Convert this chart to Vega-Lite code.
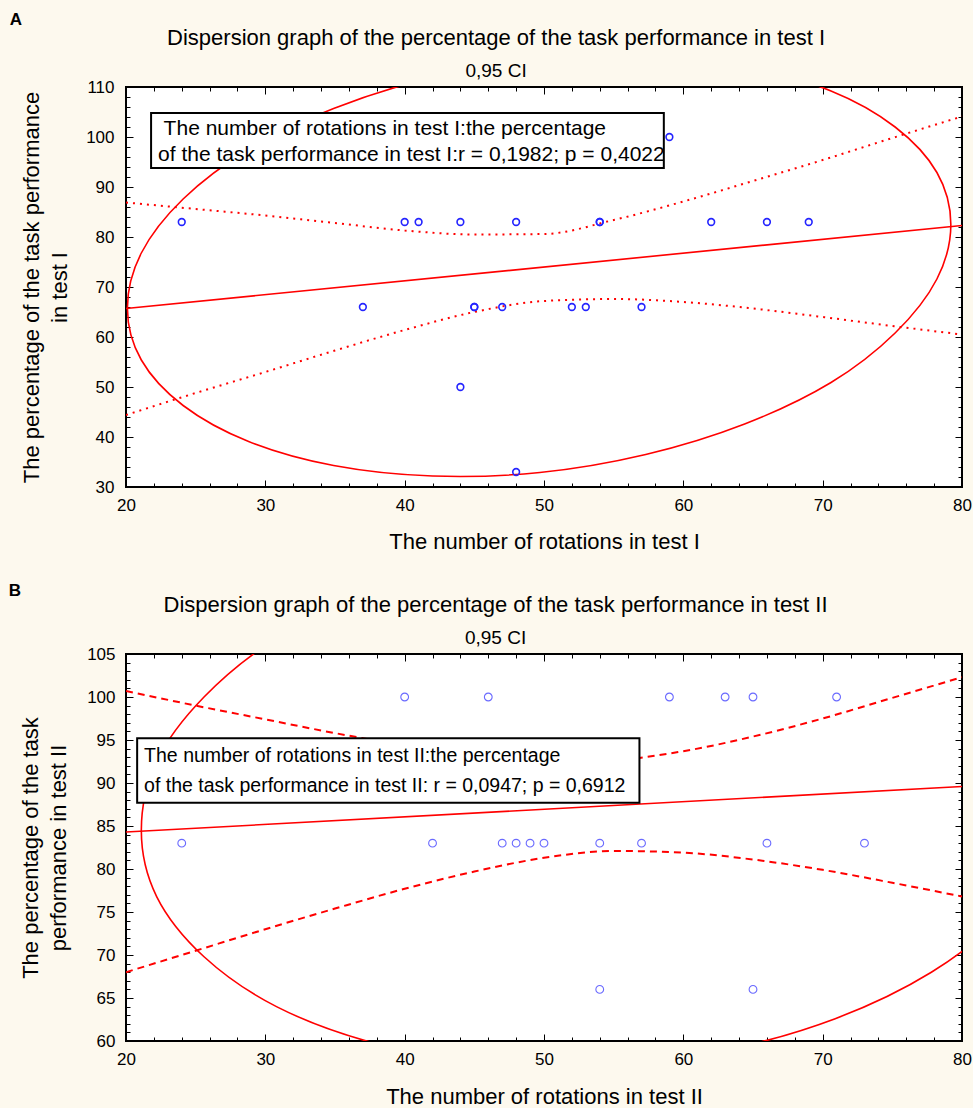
{
  "$schema": "https://vega.github.io/schema/vega-lite/v6.json",
  "padding": {"left": 8, "top": 11, "right": 0, "bottom": 0},
  "spacing": 29,
  "datasets": {
    "pointsA": [
      {"x": 24, "y": 83}, {"x": 37, "y": 66}, {"x": 40, "y": 83}, {"x": 41, "y": 83},
      {"x": 44, "y": 83}, {"x": 44, "y": 50}, {"x": 45, "y": 66}, {"x": 45, "y": 66},
      {"x": 47, "y": 66}, {"x": 48, "y": 83}, {"x": 48, "y": 33}, {"x": 52, "y": 66},
      {"x": 53, "y": 66}, {"x": 54, "y": 83}, {"x": 54, "y": 83}, {"x": 57, "y": 66},
      {"x": 59, "y": 100}, {"x": 62, "y": 83}, {"x": 66, "y": 83}, {"x": 69, "y": 83}
    ],
    "fitA": [{"x": 20, "y": 65.7}, {"x": 80, "y": 82.3}],
    "bandA": [
      {"band": "upper", "x": 20, "y": 86.9}, {"band": "upper", "x": 25, "y": 85.6},
      {"band": "upper", "x": 30, "y": 84.3}, {"band": "upper", "x": 35, "y": 82.8},
      {"band": "upper", "x": 40, "y": 81.3}, {"band": "upper", "x": 45, "y": 80.5},
      {"band": "upper", "x": 50, "y": 80.6}, {"band": "upper", "x": 55, "y": 83.4},
      {"band": "upper", "x": 60, "y": 87.1}, {"band": "upper", "x": 65, "y": 91.2},
      {"band": "upper", "x": 70, "y": 95.4}, {"band": "upper", "x": 75, "y": 99.8},
      {"band": "upper", "x": 80, "y": 104.1},
      {"band": "lower", "x": 20, "y": 44.4}, {"band": "lower", "x": 25, "y": 48.8},
      {"band": "lower", "x": 30, "y": 53.0}, {"band": "lower", "x": 35, "y": 57.3},
      {"band": "lower", "x": 40, "y": 61.4}, {"band": "lower", "x": 45, "y": 65.0},
      {"band": "lower", "x": 50, "y": 67.2}, {"band": "lower", "x": 55, "y": 67.6},
      {"band": "lower", "x": 60, "y": 67.0}, {"band": "lower", "x": 65, "y": 65.7},
      {"band": "lower", "x": 70, "y": 64.0}, {"band": "lower", "x": 75, "y": 62.2},
      {"band": "lower", "x": 80, "y": 60.5}
    ],
    "ellipseA": [
      {"i": 0, "x": 79.2, "y": 82.5}, {"i": 1, "x": 78.2, "y": 92.9}, {"i": 2, "x": 75.2, "y": 102.0},
      {"i": 3, "x": 70.6, "y": 109.2}, {"i": 4, "x": 64.4, "y": 114.1}, {"i": 5, "x": 57.3, "y": 116.2},
      {"i": 6, "x": 49.7, "y": 115.4}, {"i": 7, "x": 42.0, "y": 111.9}, {"i": 8, "x": 34.9, "y": 105.7},
      {"i": 9, "x": 28.8, "y": 97.5}, {"i": 10, "x": 24.1, "y": 87.6}, {"i": 11, "x": 21.1, "y": 76.8},
      {"i": 12, "x": 20.1, "y": 65.8}, {"i": 13, "x": 21.1, "y": 55.4}, {"i": 14, "x": 24.1, "y": 46.3},
      {"i": 15, "x": 28.8, "y": 39.1}, {"i": 16, "x": 34.9, "y": 34.3}, {"i": 17, "x": 42.0, "y": 32.2},
      {"i": 18, "x": 49.7, "y": 32.9}, {"i": 19, "x": 57.3, "y": 36.5}, {"i": 20, "x": 64.4, "y": 42.6},
      {"i": 21, "x": 70.6, "y": 50.9}, {"i": 22, "x": 75.2, "y": 60.8}, {"i": 23, "x": 78.2, "y": 71.6}
    ],
    "noteBoxA": [{"x": 21.8, "x2": 58.6, "y": 104.8, "y2": 93.8}],
    "noteTextA": [
      {"x": 22.7, "y": 101.6, "label": "The number of rotations in test I:the percentage"},
      {"x": 22.3, "y": 96.5, "label": "of the task performance in test I:r = 0,1982; p = 0,4022"}
    ],
    "pointsB": [
      {"x": 40, "y": 100}, {"x": 46, "y": 100}, {"x": 59, "y": 100}, {"x": 63, "y": 100},
      {"x": 65, "y": 100}, {"x": 71, "y": 100}, {"x": 24, "y": 83}, {"x": 42, "y": 83},
      {"x": 47, "y": 83}, {"x": 48, "y": 83}, {"x": 49, "y": 83}, {"x": 50, "y": 83},
      {"x": 54, "y": 83}, {"x": 57, "y": 83}, {"x": 66, "y": 83}, {"x": 73, "y": 83},
      {"x": 54, "y": 66}, {"x": 65, "y": 66}
    ],
    "fitB": [{"x": 20, "y": 84.3}, {"x": 80, "y": 89.6}],
    "bandB": [
      {"band": "upper", "x": 20, "y": 100.7}, {"band": "upper", "x": 25, "y": 99.0},
      {"band": "upper", "x": 30, "y": 97.4}, {"band": "upper", "x": 35, "y": 95.8},
      {"band": "upper", "x": 40, "y": 94.4}, {"band": "upper", "x": 45, "y": 93.3},
      {"band": "upper", "x": 50, "y": 92.6}, {"band": "upper", "x": 55, "y": 92.7},
      {"band": "upper", "x": 60, "y": 93.7}, {"band": "upper", "x": 65, "y": 95.4},
      {"band": "upper", "x": 70, "y": 97.5}, {"band": "upper", "x": 75, "y": 99.9},
      {"band": "upper", "x": 80, "y": 102.3},
      {"band": "lower", "x": 20, "y": 68.0}, {"band": "lower", "x": 25, "y": 70.5},
      {"band": "lower", "x": 30, "y": 73.0}, {"band": "lower", "x": 35, "y": 75.4},
      {"band": "lower", "x": 40, "y": 77.7}, {"band": "lower", "x": 45, "y": 79.7},
      {"band": "lower", "x": 50, "y": 81.3}, {"band": "lower", "x": 55, "y": 82.1},
      {"band": "lower", "x": 60, "y": 81.9}, {"band": "lower", "x": 65, "y": 81.1},
      {"band": "lower", "x": 70, "y": 79.9}, {"band": "lower", "x": 75, "y": 78.4},
      {"band": "lower", "x": 80, "y": 76.8}
    ],
    "ellipseB": [
      {"i": 0, "x": 87.5, "y": 90.3}, {"i": 1, "x": 86.4, "y": 98.0}, {"i": 2, "x": 83.1, "y": 105.0},
      {"i": 3, "x": 77.8, "y": 110.8}, {"i": 4, "x": 70.9, "y": 115.1}, {"i": 5, "x": 62.9, "y": 117.4},
      {"i": 6, "x": 54.3, "y": 117.7}, {"i": 7, "x": 45.7, "y": 115.9}, {"i": 8, "x": 37.7, "y": 112.2},
      {"i": 9, "x": 30.8, "y": 106.8}, {"i": 10, "x": 25.6, "y": 100.0}, {"i": 11, "x": 22.2, "y": 92.5},
      {"i": 12, "x": 21.1, "y": 84.5}, {"i": 13, "x": 22.2, "y": 76.8}, {"i": 14, "x": 25.6, "y": 69.8},
      {"i": 15, "x": 30.8, "y": 64.0}, {"i": 16, "x": 37.7, "y": 59.8}, {"i": 17, "x": 45.7, "y": 57.4},
      {"i": 18, "x": 54.3, "y": 57.1}, {"i": 19, "x": 62.9, "y": 58.9}, {"i": 20, "x": 70.9, "y": 62.6},
      {"i": 21, "x": 77.8, "y": 68.0}, {"i": 22, "x": 83.1, "y": 74.8}, {"i": 23, "x": 86.4, "y": 82.4}
    ],
    "noteBoxB": [{"x": 20.8, "x2": 56.85, "y": 95.2, "y2": 87.7}],
    "noteTextB": [
      {"x": 21.3, "y": 93.15, "label": "The number of rotations in test II:the percentage"},
      {"x": 21.3, "y": 89.6, "label": " of the task performance in test II: r = 0,0947; p = 0,6912"}
    ]
  },
  "vconcat": [
    {
      "title": {"text": "A", "anchor": "start", "fontSize": 17, "fontWeight": "bold", "dx": -10, "dy": 3, "offset": 0, "frame": "bounds"},
      "vconcat": [
        {
          "width": 836,
          "height": 400,
          "title": {"text": "Dispersion graph of the percentage of the task performance in test I", "subtitle": "0,95 CI", "frame": "bounds", "offset": -4},
          "encoding": {
            "x": {"field": "x", "type": "quantitative", "scale": {"domain": [20, 80], "nice": false, "zero": false}, "axis": null},
            "y": {"field": "y", "type": "quantitative", "scale": {"domain": [30, 110], "nice": false, "zero": false}, "axis": null}
          },
          "layer": [
            {
              "data": {"name": "ellipseA"},
              "mark": {"type": "line", "interpolate": "cardinal-closed", "color": "#ff0000", "strokeWidth": 1.6, "clip": true},
              "encoding": {"order": {"field": "i", "type": "quantitative"}}
            },
            {
              "data": {"name": "bandA"},
              "mark": {"type": "line", "interpolate": "monotone", "color": "#ff0000", "strokeWidth": 2, "strokeDash": [2, 5], "clip": true},
              "encoding": {"detail": {"field": "band", "type": "nominal"}}
            },
            {
              "data": {"name": "fitA"},
              "mark": {"type": "line", "color": "#ff0000", "strokeWidth": 1.6},
              "encoding": {
                "x": {"field": "x", "type": "quantitative", "scale": {"domain": [20, 80], "nice": false, "zero": false},
                  "axis": {"orient": "top", "labels": false, "title": null, "grid": false,
                    "values": [20,22,24,26,28,30,32,34,36,38,40,42,44,46,48,50,52,54,56,58,60,62,64,66,68,70,72,74,76,78,80],
                    "tickSize": {"condition": {"test": "datum.value % 10 === 0", "value": -7}, "value": -4}}},
                "y": {"field": "y", "type": "quantitative", "scale": {"domain": [30, 110], "nice": false, "zero": false},
                  "axis": {"orient": "right", "labels": false, "title": null, "grid": false,
                    "values": [30,32,34,36,38,40,42,44,46,48,50,52,54,56,58,60,62,64,66,68,70,72,74,76,78,80,82,84,86,88,90,92,94,96,98,100,102,104,106,108,110],
                    "tickSize": {"condition": {"test": "datum.value % 10 === 0", "value": -7}, "value": -4}}}
              }
            },
            {
              "data": {"name": "noteBoxA"},
              "mark": {"type": "rect", "fill": "white", "stroke": "black", "strokeWidth": 2},
              "encoding": {
                "x2": {"field": "x2"},
                "y2": {"field": "y2"}
              }
            },
            {
              "data": {"name": "noteTextA"},
              "mark": {"type": "text", "align": "left", "baseline": "middle", "fontSize": 21},
              "encoding": {"text": {"field": "label", "type": "nominal"}}
            },
            {
              "data": {"name": "pointsA"},
              "mark": {"type": "point", "shape": "circle", "filled": false, "color": "#2424ff", "strokeWidth": 1.6, "size": 45, "opacity": 1},
              "encoding": {
                "x": {"field": "x", "type": "quantitative", "scale": {"domain": [20, 80], "nice": false, "zero": false},
                  "axis": {"orient": "bottom", "title": "The number of rotations in test I", "format": "d",
                    "values": [20,22,24,26,28,30,32,34,36,38,40,42,44,46,48,50,52,54,56,58,60,62,64,66,68,70,72,74,76,78,80],
                    "labelExpr": "datum.value % 10 === 0 ? datum.label : ''",
                    "tickSize": {"condition": {"test": "datum.value % 10 === 0", "value": -7}, "value": -4},
                    "gridOpacity": {"condition": {"test": "datum.value % 10 === 0", "value": 1}, "value": 0},
                    "labelPadding": 17, "titlePadding": 15}},
                "y": {"field": "y", "type": "quantitative", "scale": {"domain": [30, 110], "nice": false, "zero": false},
                  "axis": {"orient": "left", "title": ["The percentage of the task performance", "in test I"], "format": "d",
                    "values": [30,32,34,36,38,40,42,44,46,48,50,52,54,56,58,60,62,64,66,68,70,72,74,76,78,80,82,84,86,88,90,92,94,96,98,100,102,104,106,108,110],
                    "labelExpr": "datum.value % 10 === 0 ? datum.label : ''",
                    "tickSize": {"condition": {"test": "datum.value % 10 === 0", "value": -7}, "value": -4},
                    "gridOpacity": {"condition": {"test": "datum.value % 10 === 0", "value": 1}, "value": 0},
                    "labelPadding": 19, "titlePadding": 14}}
              }
            }
          ],
          "resolve": {"axis": {"x": "independent", "y": "independent"}}
        }
      ]
    },
    {
      "title": {"text": "B", "anchor": "start", "fontSize": 17, "fontWeight": "bold", "dx": -10, "dy": 7, "offset": 0, "frame": "bounds"},
      "vconcat": [
        {
          "width": 836,
          "height": 387,
          "title": {"text": "Dispersion graph   of the percentage of the task performance in test II", "subtitle": "0,95 CI", "frame": "bounds", "offset": -4},
          "encoding": {
            "x": {"field": "x", "type": "quantitative", "scale": {"domain": [20, 80], "nice": false, "zero": false}, "axis": null},
            "y": {"field": "y", "type": "quantitative", "scale": {"domain": [60, 105], "nice": false, "zero": false}, "axis": null}
          },
          "layer": [
            {
              "data": {"name": "ellipseB"},
              "mark": {"type": "line", "interpolate": "cardinal-closed", "color": "#ff0000", "strokeWidth": 1.6, "clip": true},
              "encoding": {"order": {"field": "i", "type": "quantitative"}}
            },
            {
              "data": {"name": "bandB"},
              "mark": {"type": "line", "interpolate": "monotone", "color": "#ff0000", "strokeWidth": 2, "strokeDash": [7, 5], "clip": true},
              "encoding": {"detail": {"field": "band", "type": "nominal"}}
            },
            {
              "data": {"name": "fitB"},
              "mark": {"type": "line", "color": "#ff0000", "strokeWidth": 1.6},
              "encoding": {
                "x": {"field": "x", "type": "quantitative", "scale": {"domain": [20, 80], "nice": false, "zero": false},
                  "axis": {"orient": "top", "labels": false, "title": null, "grid": false,
                    "values": [20,22,24,26,28,30,32,34,36,38,40,42,44,46,48,50,52,54,56,58,60,62,64,66,68,70,72,74,76,78,80],
                    "tickSize": {"condition": {"test": "datum.value % 10 === 0", "value": -7}, "value": -4}}},
                "y": {"field": "y", "type": "quantitative", "scale": {"domain": [60, 105], "nice": false, "zero": false},
                  "axis": {"orient": "right", "labels": false, "title": null, "grid": false,
                    "values": [60,61,62,63,64,65,66,67,68,69,70,71,72,73,74,75,76,77,78,79,80,81,82,83,84,85,86,87,88,89,90,91,92,93,94,95,96,97,98,99,100,101,102,103,104,105],
                    "tickSize": {"condition": {"test": "datum.value % 5 === 0", "value": -7}, "value": -4}}}
              }
            },
            {
              "data": {"name": "noteBoxB"},
              "mark": {"type": "rect", "fill": "white", "stroke": "black", "strokeWidth": 2},
              "encoding": {
                "x2": {"field": "x2"},
                "y2": {"field": "y2"}
              }
            },
            {
              "data": {"name": "noteTextB"},
              "mark": {"type": "text", "align": "left", "baseline": "middle", "fontSize": 19.5},
              "encoding": {"text": {"field": "label", "type": "nominal"}}
            },
            {
              "data": {"name": "pointsB"},
              "mark": {"type": "point", "shape": "circle", "filled": false, "color": "#6a6aff", "strokeWidth": 1.1, "size": 60, "opacity": 1},
              "encoding": {
                "x": {"field": "x", "type": "quantitative", "scale": {"domain": [20, 80], "nice": false, "zero": false},
                  "axis": {"orient": "bottom", "title": "The number of rotations in test II", "format": "d",
                    "values": [20,22,24,26,28,30,32,34,36,38,40,42,44,46,48,50,52,54,56,58,60,62,64,66,68,70,72,74,76,78,80],
                    "labelExpr": "datum.value % 10 === 0 ? datum.label : ''",
                    "tickSize": {"condition": {"test": "datum.value % 10 === 0", "value": -7}, "value": -4},
                    "gridOpacity": {"condition": {"test": "datum.value % 10 === 0", "value": 1}, "value": 0},
                    "labelPadding": 17, "titlePadding": 16}},
                "y": {"field": "y", "type": "quantitative", "scale": {"domain": [60, 105], "nice": false, "zero": false},
                  "axis": {"orient": "left", "title": ["The percentage of the task", "performance in test II"], "format": "d",
                    "values": [60,61,62,63,64,65,66,67,68,69,70,71,72,73,74,75,76,77,78,79,80,81,82,83,84,85,86,87,88,89,90,91,92,93,94,95,96,97,98,99,100,101,102,103,104,105],
                    "labelExpr": "datum.value % 5 === 0 ? datum.label : ''",
                    "tickSize": {"condition": {"test": "datum.value % 5 === 0", "value": -7}, "value": -4},
                    "gridOpacity": {"condition": {"test": "datum.value % 5 === 0", "value": 1}, "value": 0},
                    "labelPadding": 18, "titlePadding": 16}}
              }
            }
          ],
          "resolve": {"axis": {"x": "independent", "y": "independent"}}
        }
      ]
    }
  ],
  "config": {
    "background": "#fdf9ee",
    "font": "Liberation Sans",
    "view": {"fill": "white", "stroke": "black", "strokeWidth": 2},
    "axis": {
      "labelFont": "Liberation Sans", "labelFontSize": 17, "labelColor": "black",
      "titleFont": "Liberation Sans", "titleFontSize": 22, "titleFontWeight": "normal", "titleColor": "black", "titleLineHeight": 28,
      "domain": false, "tickColor": "black", "tickWidth": 1,
      "gridColor": "#c4c4c4", "gridDash": [1, 2], "gridWidth": 1,
      "labelFlush": false, "labelOverlap": false
    },
    "title": {
      "font": "Liberation Sans", "fontSize": 22, "fontWeight": "normal", "color": "black",
      "subtitleFont": "Liberation Sans", "subtitleFontSize": 19, "subtitleColor": "black",
      "subtitlePadding": 12, "offset": 6
    },
    "text": {"font": "Liberation Sans", "color": "black"}
  }
}
